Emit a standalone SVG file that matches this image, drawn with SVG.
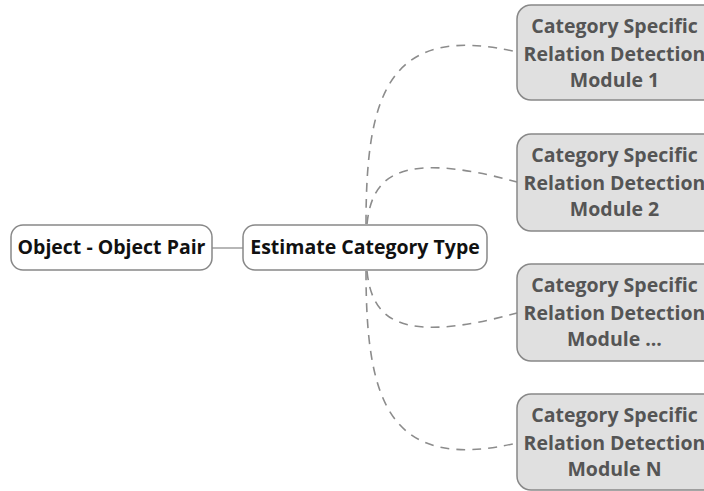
<svg xmlns="http://www.w3.org/2000/svg" width="704" height="491" viewBox="0 0 704 491">
  <style>
    .root rect { fill: #ffffff; stroke: #888888; stroke-width: 1.5; }
    .root text { font-family: "Open Sans", "Noto Sans", sans-serif; font-weight: bold; font-size: 19.5px; fill: #111111; text-anchor: middle; }
    .module rect { fill: #e0e0e0; stroke: #888888; stroke-width: 1.5; }
    .module text { font-family: "Open Sans", "Noto Sans", sans-serif; font-weight: bold; font-size: 19.5px; fill: #555555; text-anchor: middle; }
    .solid { fill: none; stroke: #888888; stroke-width: 1.2; }
    .dashed { fill: none; stroke: #8c8c8c; stroke-width: 1.6; stroke-dasharray: 9 7; }
  </style>

  <!-- connectors -->
  <g id="connectors">
    <line class="solid" x1="212" y1="248" x2="243" y2="248"/>
    <path class="dashed" d="M366,224 C366,95 388,22 517,52"/>
    <path class="dashed" d="M367,224 C372,175 400,150 517,182"/>
    <path class="dashed" d="M367,271 C372,320 400,345 517,313"/>
    <path class="dashed" d="M366,271 C366,400 388,473 517,443"/>
  </g>

  <!-- left nodes -->
  <g id="object-pair" class="root">
    <rect x="11" y="225" width="201" height="45" rx="12"/>
    <text x="111.5" y="254">Object - Object Pair</text>
  </g>
  <g id="estimate-category" class="root">
    <rect x="243" y="225" width="244" height="45" rx="12"/>
    <text x="365" y="254">Estimate Category Type</text>
  </g>

  <!-- category specific modules -->
  <g id="module-1" class="module">
    <rect x="517" y="5" width="200" height="95" rx="14"/>
    <text x="614.5" y="33">Category Specific</text>
    <text x="614.5" y="61">Relation Detection</text>
    <text x="614.5" y="87">Module 1</text>
  </g>
  <g id="module-2" class="module">
    <rect x="517" y="134" width="200" height="97" rx="14"/>
    <text x="614.5" y="162">Category Specific</text>
    <text x="614.5" y="190">Relation Detection</text>
    <text x="614.5" y="216">Module 2</text>
  </g>
  <g id="module-etc" class="module">
    <rect x="517" y="264" width="200" height="97" rx="14"/>
    <text x="614.5" y="292">Category Specific</text>
    <text x="614.5" y="320">Relation Detection</text>
    <text x="614.5" y="346">Module ...</text>
  </g>
  <g id="module-n" class="module">
    <rect x="517" y="394" width="200" height="96" rx="14"/>
    <text x="614.5" y="422">Category Specific</text>
    <text x="614.5" y="450">Relation Detection</text>
    <text x="614.5" y="476">Module N</text>
  </g>
</svg>
